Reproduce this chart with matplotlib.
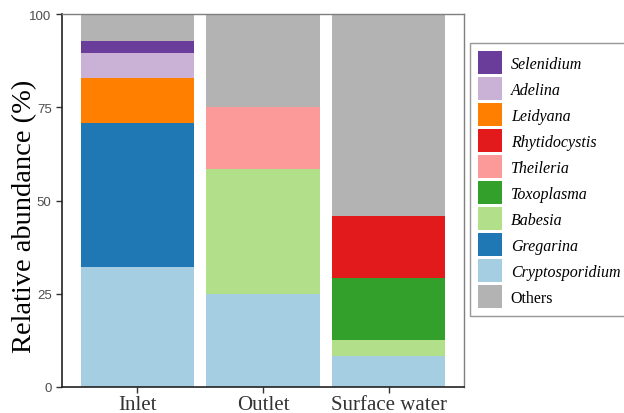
import numpy as np
import matplotlib.pyplot as plt
from matplotlib.patches import Patch

plt.rcParams["font.family"] = "Liberation Serif"

sites = ["Inlet", "Outlet", "Surface water"]

# stacking order, bottom -> top
taxa = ["Cryptosporidium", "Gregarina", "Babesia", "Toxoplasma", "Theileria",
        "Rhytidocystis", "Leidyana", "Adelina", "Selenidium", "Others"]
cryptosporidium = [32.3, 25.0, 8.3]
gregarina = [38.6, 0.0, 0.0]
babesia = [0.0, 33.4, 4.2]
toxoplasma = [0.0, 0.0, 16.7]
theileria = [0.0, 16.6, 0.0]
rhytidocystis = [0.0, 0.0, 16.6]
leidyana = [11.9, 0.0, 0.0]
adelina = [6.7, 0.0, 0.0]
selenidium = [3.2, 0.0, 0.0]
others = [7.3, 25.0, 54.2]

values = [cryptosporidium, gregarina, babesia, toxoplasma, theileria,
          rhytidocystis, leidyana, adelina, selenidium, others]
colors = ["#A6CEE3", "#1F78B4", "#B2DF8A", "#33A02C", "#FB9A99",
          "#E31A1C", "#FF7F00", "#CAB2D6", "#6A3D9A", "#B3B3B3"]

legend_order = ["Selenidium", "Adelina", "Leidyana", "Rhytidocystis", "Theileria",
                "Toxoplasma", "Babesia", "Gregarina", "Cryptosporidium", "Others"]

fig = plt.figure(figsize=(6.24, 4.14), dpi=100)
ax = fig.add_axes([62/624, 1-388/414, (464-62)/624, (388-15)/414])

x = np.arange(len(sites))
bottom = np.zeros(len(sites))
for name, vals, c in zip(taxa, values, colors):
    ax.bar(x, vals, width=0.9, bottom=bottom, color=c, label=name, linewidth=0)
    bottom += np.array(vals)

ax.set_xlim(-0.6, 2.6)
ax.set_ylim(0, 100)
ax.set_xticks(x)
ax.set_xticklabels(sites, fontsize=15, color="#333333")
ax.set_yticks([0, 25, 50, 75, 100])
ax.set_yticklabels(["0", "25", "50", "75", "100"], fontsize=9.5,
                   color="#4d4d4d", family="Liberation Sans")
ax.set_ylabel("Relative abundance (%)", fontsize=20.5)
ax.yaxis.set_label_coords(-25/402, 0.46)
ax.tick_params(axis="both", length=4, width=1, color="#333333")
ax.tick_params(axis="x", pad=2)
for s in ["left", "bottom"]:
    ax.spines[s].set_color("#222222")
    ax.spines[s].set_linewidth(1.2)
for s in ["top", "right"]:
    ax.spines[s].set_color("#7f7f7f")
    ax.spines[s].set_linewidth(1.0)

handles = [Patch(facecolor=colors[taxa.index(n)], edgecolor="none") for n in legend_order]
leg = fig.legend(handles, legend_order, loc="upper left", bbox_to_anchor=(470/624, 1-44/414),
                 frameon=True, fancybox=False, fontsize=11.5, handlelength=1.5,
                 handleheight=1.84, handletextpad=0.55, labelspacing=0.19,
                 borderpad=0.5, borderaxespad=0)
leg.get_frame().set_edgecolor("#7f7f7f")
leg.get_frame().set_linewidth(1.0)
for t in leg.get_texts():
    if t.get_text() != "Others":
        t.set_style("italic")

fig.savefig("out.png", dpi=100)
